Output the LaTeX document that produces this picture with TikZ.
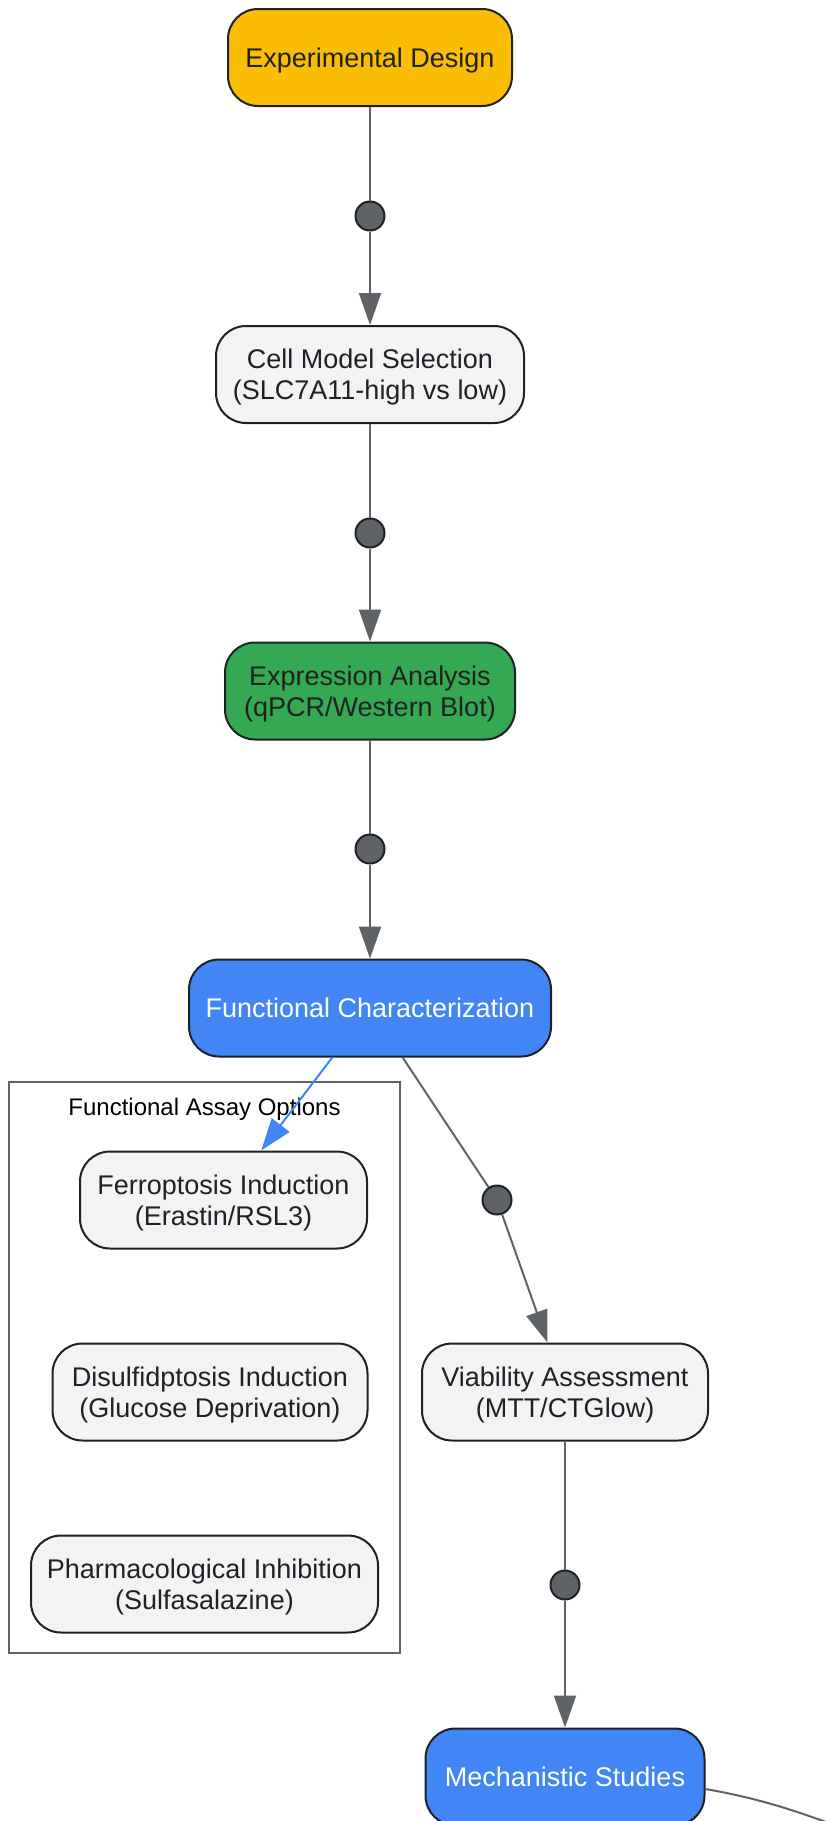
\documentclass[tikz,border=0pt]{standalone}
\usepackage{fontspec}
\setmainfont{Liberation Sans}
\usepackage{tikz}
\usetikzlibrary{arrows.meta, calc, positioning}

\definecolor{gyellow}{HTML}{FBBC04}
\definecolor{ggreen}{HTML}{34A853}
\definecolor{gblue}{HTML}{4285F4}
\definecolor{glight}{HTML}{F1F3F4}
\definecolor{gdark}{HTML}{202124}
\definecolor{ggray}{HTML}{5F6368}

\begin{document}
\begin{tikzpicture}[x=1pt, y=-1pt,
	stage/.style={draw=gdark, line width=2pt, rounded corners=30pt, fill=glight, text=gdark, align=center, font=\fontsize{27}{31}\selectfont, text depth=0pt, minimum height=97pt, inner sep=0pt},
	dot/.style={circle, draw=gdark, line width=2pt, fill=ggray, minimum size=29pt, inner sep=0pt},
	link/.style={draw=ggray, line width=2pt},
	linkarr/.style={link, -{Triangle[length=32pt, width=22pt]}},
	]
	\useasboundingbox (0,0) rectangle (833,1821);
	
	\coordinate (pExp)   at (370,57.5);
	\coordinate (pD1)    at (370,216);
	\coordinate (pCell)  at (370,374.5);
	\coordinate (pD2)    at (370,533);
	\coordinate (pExpr)  at (370,691);
	\coordinate (pD3)    at (370,849);
	\coordinate (pFunc)  at (370,1008);
	
	\coordinate (pBox)   at (204.5,1367.5);
	\coordinate (pLbl)   at (204.5,1107);
	\coordinate (pFerro) at (223.5,1200);
	\coordinate (pDisul) at (210,1392);
	\coordinate (pPharm) at (204.5,1584);
	
	\coordinate (pD4)    at (497,1200);
	\coordinate (pVia)   at (565,1392);
	\coordinate (pD5)    at (565,1585);
	\coordinate (pMech)  at (565,1777);
	\coordinate (pOff)   at (870,1838);
	
	\node[draw=ggray, line width=2.4pt, minimum width=391pt, minimum height=571pt] (assay) at (pBox) {};
	\node[black, font=\fontsize{24}{28}\selectfont, text depth=0pt] (assaylbl) at (pLbl) {Functional Assay Options};
	
	\node[stage, fill=gyellow, minimum width=284pt] (exp)  at (pExp)  {Experimental Design};
	\node[stage, minimum width=308pt]               (cell) at (pCell) {Cell Model Selection\\(SLC7A11-high vs low)};
	\node[stage, fill=ggreen, minimum width=290pt]  (expr) at (pExpr) {Expression Analysis\\(qPCR/Western Blot)};
	\node[stage, fill=gblue, text=white, minimum width=362pt] (func) at (pFunc) {Functional Characterization};
	
	\node[stage, minimum width=287pt] (ferro) at (pFerro) {Ferroptosis Induction\\(Erastin/RSL3)};
	\node[stage, minimum width=315pt] (disul) at (pDisul) {Disulfidptosis Induction\\(Glucose Deprivation)};
	\node[stage, minimum width=347pt] (pharm) at (pPharm) {Pharmacological Inhibition\\(Sulfasalazine)};
	
	\node[stage, minimum width=286pt] (via)  at (pVia)  {Viability Assessment\\(MTT/CTGlow)};
	\node[stage, fill=gblue, text=white, minimum width=279pt] (mech) at (pMech) {Mechanistic Studies};
	
	\node[dot] (d1) at (pD1) {};
	\node[dot] (d2) at (pD2) {};
	\node[dot] (d3) at (pD3) {};
	\node[dot] (d4) at (pD4) {};
	\node[dot] (d5) at (pD5) {};
	
	\draw[link] (exp)--(d1);
	\draw[linkarr] (d1)--(cell);
	\draw[link] (cell)--(d2);
	\draw[linkarr] (d2)--(expr);
	\draw[link] (expr)--(d3);
	\draw[linkarr] (d3)--(func);
	\draw[link] (func)--(d4);
	\draw[linkarr] (d4)--(via);
	\draw[link] (via)--(d5);
	\draw[linkarr] (d5)--(mech);
	\draw[linkarr, draw=gblue, fill=gblue] (func)--(ferro);
	\draw[link] ([yshift=-12pt]mech.east) to[out=-10,in=160] (pOff);
\end{tikzpicture}
\end{document}
